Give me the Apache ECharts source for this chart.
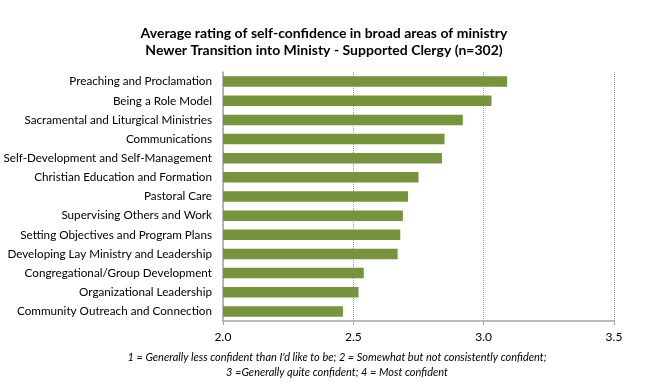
<!DOCTYPE html>
<html>
<head>
<meta charset="utf-8">
<script src="https://cdn.jsdelivr.net/npm/echarts@6/dist/echarts.min.js"></script>
<style>html,body{margin:0;padding:0;background:#fff;}#main{width:648px;height:387px;}</style>
</head>
<body>
<div id="main"></div>
<script>
var categories = [
  "Preaching and Proclamation",
  "Being a Role Model",
  "Sacramental and Liturgical Ministries",
  "Communications",
  "Self-Development and Self-Management",
  "Christian Education and Formation",
  "Pastoral Care",
  "Supervising Others and Work",
  "Setting Objectives and Program Plans",
  "Developing Lay Ministry and Leadership",
  "Congregational/Group Development",
  "Organizational Leadership",
  "Community Outreach and Connection"
];
var ratings = [3.09, 3.03, 2.92, 2.85, 2.84, 2.75, 2.71, 2.69, 2.68, 2.67, 2.54, 2.52, 2.46];
var titleLines = [
  "Average rating of self-confidence in broad areas of ministry",
  "Newer Transition into Ministy - Supported Clergy (n=302)"
];
var noteLines = [
  "1 = Generally less confident than I'd like to be; 2 = Somewhat but not consistently confident;",
  "3 =Generally quite confident; 4 = Most confident"
];
var FONT = "Lato";
var chart = echarts.init(document.getElementById('main'));
chart.setOption({
  animation: false,
  backgroundColor: '#fff',
  title: [
    {
      text: titleLines.join('\n'),
      left: 319, top: 20, textAlign: 'center',
      textStyle: { fontFamily: FONT, fontSize: 14, fontWeight: 'bold', color: '#000', lineHeight: 17 }
    },
    {
      text: noteLines.join('\n'),
      left: 332, top: 345, textAlign: 'center',
      textStyle: { fontFamily: FONT, fontSize: 11, fontStyle: 'italic', fontWeight: 'normal', color: '#000', lineHeight: 15 }
    }
  ],
  grid: { left: 223, right: 34, top: 72, bottom: 66, containLabel: false, outerBoundsMode: 'none' },
  xAxis: {
    type: 'value', min: 2.0, max: 3.5, interval: 0.5,
    axisLine: { show: true, lineStyle: { color: '#a6a6a6', width: 1.5 } },
    axisTick: { show: true, length: 4, lineStyle: { color: '#a6a6a6' } },
    axisLabel: { fontFamily: FONT, fontSize: 12, color: '#000', margin: 10, formatter: function (v) { return v.toFixed(1); } },
    splitLine: { show: true, lineStyle: { color: '#999', type: [1, 1], width: 1 } }
  },
  yAxis: {
    type: 'category', data: categories, inverse: true,
    axisLine: { show: true, lineStyle: { color: '#a6a6a6', width: 1.5 } },
    axisTick: { show: false },
    axisLabel: { fontFamily: FONT, fontSize: 11.7, color: '#000', margin: 11 }
  },
  series: [{
    type: 'bar', data: ratings, barWidth: 10.5,
    itemStyle: { color: '#77933c' }
  }]
});
</script>
</body>
</html>
